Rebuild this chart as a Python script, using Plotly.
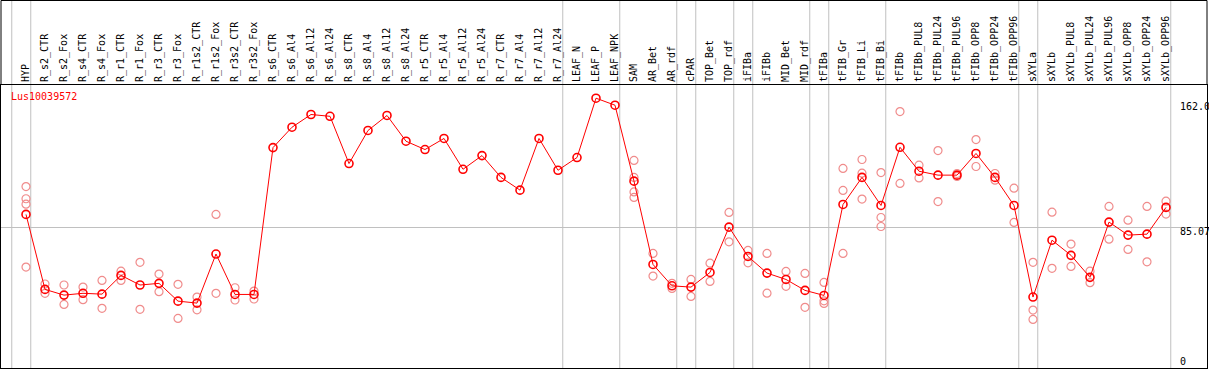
import plotly.graph_objects as go

categories = ["HYP", "R_s2_CTR", "R_s2_Fox", "R_s4_CTR", "R_s4_Fox", "R_r1_CTR", "R_r1_Fox",
              "R_r3_CTR", "R_r3_Fox", "R_r1s2_CTR", "R_r1s2_Fox", "R_r3s2_CTR", "R_r3s2_Fox",
              "R_s6_CTR", "R_s6_Al4", "R_s6_Al12", "R_s6_Al24", "R_s8_CTR", "R_s8_Al4", "R_s8_Al12",
              "R_s8_Al24", "R_r5_CTR", "R_r5_Al4", "R_r5_Al12", "R_r5_Al24", "R_r7_CTR", "R_r7_Al4",
              "R_r7_Al12", "R_r7_Al24", "LEAF_N", "LEAF_P", "LEAF_NPK", "SAM", "AR_Bet", "AR_rdf",
              "cPAR", "TOP_Bet", "TOP_rdf", "iFIBa", "iFIBb", "MID_Bet", "MID_rdf", "tFIBa",
              "tFIB_Gr", "tFIB_Li", "tFIB_Bi", "tFIBb", "tFIBb_PUL8", "tFIBb_PUL24", "tFIBb_PUL96",
              "tFIBb_OPP8", "tFIBb_OPP24", "tFIBb_OPP96", "sXYLa", "sXYLb", "sXYLb_PUL8",
              "sXYLb_PUL24", "sXYLb_PUL96", "sXYLb_OPP8", "sXYLb_OPP24", "sXYLb_OPP96"]

mean_values = [93.3, 47.3, 43.8, 44.9, 44.4, 55.9, 50.0, 51.0, 40.1, 38.9, 69.0, 44.2, 44.2,
               134.3, 146.8, 154.6, 153.5, 124.5, 144.8, 154.0, 138.2, 133.1, 139.9, 121.0, 129.4,
               116.0, 108.2, 139.9, 120.4, 128.2, 164.6, 160.3, 113.7, 62.6, 49.5, 48.7, 57.7,
               85.5, 67.5, 57.3, 53.4, 46.7, 43.6, 99.4, 116.0, 98.8, 134.5, 119.8, 117.4, 117.4,
               130.7, 116.0, 98.8, 42.6, 77.5, 68.2, 54.7, 88.6, 80.6, 81.2, 97.6]

N = None
rep_1 = [110.4, 50.6, 50.0, 48.7, 52.8, 58.5, 63.9, 56.7, 50.4, 42.6, 93.3, 48.3, 46.3,
         N, N, N, N, N, N, N, N, N, N, N, N, N, N, N, N, N, N, N,
         126.4, 69.4, 51.0, 53.4, 63.4, 94.5, 71.2, 69.4, 58.3, 57.1, 51.6, 121.5, 127.0, 119.0,
         156.4, 123.5, 132.5, 118.4, 139.2, 118.4, 109.4, 63.9, 94.7, 75.1, 58.5, 98.2, 89.8,
         98.2, 101.4]
rep_2 = [102.9, 44.9, 38.1, 41.0, 35.7, 52.8, 35.1, 45.9, 29.5, 34.8, 44.9, 40.8, 41.4,
         N, N, N, N, N, N, N, N, N, N, N, N, N, N, N, N, N, N, N,
         116.0, 55.5, 47.9, 43.0, 52.2, 76.5, 63.6, 45.0, 49.2, 36.3, 40.3, 108.0, 118.6, 91.4,
         112.3, 115.7, 101.2, 116.6, 122.7, 114.3, 88.4, 34.6, 60.2, 61.4, 51.4, 78.1, 71.8,
         64.2, 93.5]
rep_3 = [99.6, N, N, N, N, N, N, N, N, N, N, N, N,
         N, N, N, N, N, N, N, N, N, N, N, N, N, N, N, N, N, N, N,
         107.1, N, N, N, N, N, N, N, N, N, 38.7, 69.4, 102.7, 85.9,
         N, N, N, N, N, N, N, 28.9, N, N, N, N, N, N, N]
rep_4 = [61.0, N, N, N, N, N, N, N, N, N, N, N, N,
         N, N, N, N, N, N, N, N, N, N, N, N, N, N, N, N, N, N, N,
         103.7, N, N, N, N, N, N, N, N, N, N, N, N, N,
         N, N, N, N, N, N, N, N, N, N, N, N, N, N, N]

# indices of categories followed by a grey separator line
separator_after = [-1, 0, 28, 31, 34, 35, 37, 38, 41, 42, 45, 52, 53, 60]

ytick_values = [162.0, 85.07, 0]
ytick_labels = ["162.0", "85.07", "0"]
gene_name = "Lus10039572"

MONO = "DejaVu Sans Mono"
W, H = 1209, 370
ML, MR, MT, MB = 1, 2, 85, 2
plot_h = H - MT - MB
plot_w = W - ML - MR

x_idx = list(range(len(categories)))

fig = go.Figure()

for reps in (rep_1, rep_2, rep_3, rep_4):
    fig.add_trace(go.Scatter(
        x=x_idx, y=reps, mode="markers",
        marker=dict(symbol="circle-open", size=8, color="#f08c8c", line=dict(width=1.2)),
        hoverinfo="skip", showlegend=False))

fig.add_trace(go.Scatter(
    x=x_idx, y=mean_values, mode="lines+markers",
    line=dict(color="#ff0000", width=1),
    marker=dict(symbol="circle-open", size=8, color="#ff0000", line=dict(width=1.6)),
    hoverinfo="skip", showlegend=False))

shapes = []
top_paper = 1 + (MT - 0.5) / plot_h
for s in separator_after:
    shapes.append(dict(type="line", xref="x", yref="paper", x0=s + 0.25, x1=s + 0.25,
                       y0=0, y1=top_paper, line=dict(color="#c0c0c0", width=1), layer="below"))
# frame around label region
shapes.append(dict(type="line", xref="paper", yref="paper", x0=0, x1=0, y0=1, y1=top_paper,
                   line=dict(color="black", width=1)))
shapes.append(dict(type="line", xref="paper", yref="paper", x0=1, x1=1, y0=1, y1=top_paper,
                   line=dict(color="black", width=1)))
shapes.append(dict(type="line", xref="paper", yref="paper", x0=0, x1=1, y0=top_paper, y1=top_paper,
                   line=dict(color="black", width=1)))

annotations = [dict(text=gene_name, xref="paper", yref="paper",
                    x=(9.3 - ML) / plot_w, y=1 - (96.7 - MT) / plot_h,
                    xanchor="left", yanchor="middle", showarrow=False,
                    font=dict(family=MONO, size=10, color="#ff0000"))]
label_x = (1178 - ML) / plot_w
for v, t in zip(ytick_values, ytick_labels):
    shift = 5 if v == 0 else -4
    annotations.append(dict(text=t, xref="paper", yref="y", x=label_x, y=v,
                            xanchor="left", yanchor="middle", yshift=shift, showarrow=False,
                            font=dict(family=MONO, size=10, color="black")))

x0 = -(26 - ML) / 19.0
fig.update_layout(
    width=W, height=H,
    margin=dict(l=ML, r=MR, t=MT, b=MB, pad=0, autoexpand=False),
    paper_bgcolor="white", plot_bgcolor="white",
    showlegend=False,
    xaxis=dict(range=[x0, x0 + plot_w / 19.0], side="top", tickmode="array",
               tickvals=x_idx, ticktext=categories, tickangle=-90,
               tickfont=dict(family=MONO, size=10, color="black"),
               showgrid=False, zeroline=False, showline=True, mirror=True,
               linecolor="black", linewidth=1, ticks="", automargin=False),
    yaxis=dict(range=[-0.92, 172.7], tickmode="array", tickvals=[85.07],
               showticklabels=False, showgrid=True, gridcolor="#c0c0c0", gridwidth=1,
               zeroline=False, showline=True, mirror=True, linecolor="black", linewidth=1,
               ticks="", automargin=False),
    shapes=shapes, annotations=annotations,
    hovermode=False,
)

fig.write_html("out.html", config={"displayModeBar": False},
               post_script="document.body.style.margin='0';document.body.style.padding='0';")
